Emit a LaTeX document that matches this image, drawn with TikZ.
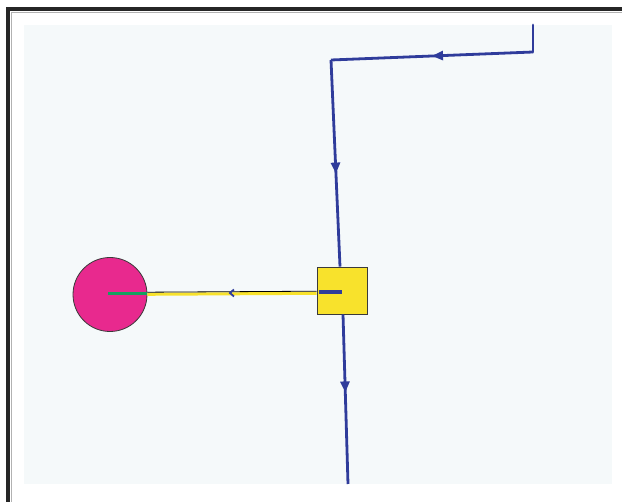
\documentclass[tikz,border=0pt]{standalone}
\usetikzlibrary{arrows.meta,decorations.markings}
\definecolor{bgcol}{HTML}{F5F9FA}
\definecolor{flowblue}{HTML}{2F3C9B}
\definecolor{pinkfill}{HTML}{E8298E}
\definecolor{yelfill}{HTML}{F8E22C}
\definecolor{grnline}{HTML}{14A060}
\definecolor{edgegray}{HTML}{3A3A3A}
\tikzset{
  flow/.style={draw=flowblue, line width=2.8pt},
  midarrow/.style={postaction={decorate}, decoration={markings, mark=at position #1 with {\arrow[flowblue]{Triangle[length=11pt,width=9pt]}}}},
  smallarrow/.style={postaction={decorate}, decoration={markings, mark=at position #1 with {\arrow[flowblue]{Straight Barb[length=4pt,width=7pt,line width=1.8pt]}}}},
  junction/.style={rectangle, draw=edgegray, line width=0.9pt, fill=yelfill, minimum width=50pt, minimum height=47pt, inner sep=0pt},
  sink/.style={circle, draw=edgegray, line width=0.8pt, fill=pinkfill, minimum size=74pt, inner sep=0pt}
}
\begin{document}
\begin{tikzpicture}[x=1pt,y=-1pt]
  \useasboundingbox (0,0) rectangle (622,502);
  % frame
  \fill[white] (0,0) rectangle (622,502);
  \draw[black!85, line width=4pt] (8,502) -- (8,9.5) -- (622,9.5);
  \draw[black!30, line width=0.8pt] (11,502) -- (11,12) -- (622,12);
  \fill[bgcol] (24,25) rectangle (612,484);
  % nodes
  \node[sink] (c) at (110,294.5) {};
  \node[junction] (s) at (342,290.5) {};
  \coordinate (top) at (533,25);
  \coordinate (corner1) at (533,52);
  \coordinate (corner2) at (331,60);
  \coordinate (bottom) at (348,484);
  \coordinate (sin) at (s.west |- 0,292.5);
  \coordinate (cin) at (c.east |- 0,293.5);
  % blue flow
  \draw[flow, line cap=round, line join=round] (top) -- (corner1);
  \draw[flow, midarrow=0.5, line join=round] (corner1) -- (corner2);
  \draw[flow, midarrow=0.55] (corner2) -- (s.north -| 340,0);
  \draw[flow, midarrow=0.46] (s.south -| 343,0) -- (bottom);
  % link from junction to sink
  \draw[yelfill, line width=3pt] ([yshift=-0.8pt]sin) -- ([yshift=-0.8pt]cin);
  \draw[black, line width=0.8pt] ([yshift=1.3pt]sin) -- ([yshift=1.3pt]cin);
  \draw[draw=none, smallarrow=0.52] (sin) -- (cin);
  \draw[flowblue, line width=4pt] ([xshift=2pt]sin) -- (s.center |- sin);
  \draw[grnline, line width=2.8pt] ([xshift=-2pt]c.center |- cin) -- (cin);
\end{tikzpicture}
\end{document}
